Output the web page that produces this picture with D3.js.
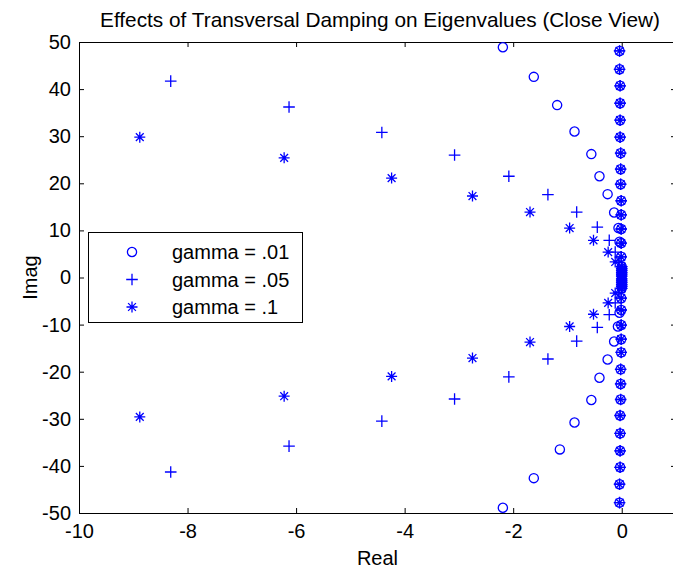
<!DOCTYPE html>
<html>
<head>
<meta charset="utf-8">
<script src="https://cdn.jsdelivr.net/npm/d3@7"></script>
<style>
  html, body { margin: 0; padding: 0; background: #fff; }
  svg { display: block; font-family: "Liberation Sans", Arial, Helvetica, sans-serif; }
</style>
</head>
<body>
<svg id="chart" width="673" height="571"></svg>
<script>
// Eigenvalues (real, imag) for three transversal damping coefficients.
// Each set holds the damped branch plus the lightly damped column near Re = 0.
const gamma01 = [
  [-2.19, 48.9], [-1.62, 42.6], [-1.19, 36.6], [-0.87, 31.0], [-0.56, 26.2],
  [-0.41, 21.5], [-0.26, 17.7], [-0.14, 13.8], [-0.06, 10.5], [-0.04, 7.6],
  [-2.19, -48.9], [-1.62, -42.6], [-1.14, -36.5], [-0.87, -30.8], [-0.56, -26.0],
  [-0.41, -21.3], [-0.26, -17.4], [-0.14, -13.6], [-0.07, -10.4], [-0.04, -7.5],
  [-0.04, 48.1], [-0.04, 44.2], [-0.03, 40.7], [-0.03, 37.0], [-0.03, 33.4],
  [-0.03, 29.8], [-0.02, 26.4], [-0.02, 23.0], [-0.02, 19.8], [-0.01, 16.3],
  [-0.01, 13.3], [-0.01, 10.3], [-0.01, 7.3], [-0.01, 4.4], [0.00, 2.3],
  [-0.04, -47.8], [-0.04, -43.9], [-0.03, -40.3], [-0.03, -36.8], [-0.03, -33.1],
  [-0.03, -29.3], [-0.02, -25.9], [-0.02, -22.6], [-0.02, -19.5], [-0.01, -15.9],
  [-0.01, -13.1], [-0.01, -10.1], [-0.01, -6.9], [-0.01, -4.4], [0.00, -2.3],
  [0.00, 1.9], [0.00, 1.5], [0.00, 1.1], [0.00, 0.7], [0.00, 0.3],
  [0.00, -1.9], [0.00, -1.5], [0.00, -1.1], [0.00, -0.7], [0.00, -0.3]
];

const gamma05 = [
  [-8.31, 41.7], [-6.13, 36.2], [-4.42, 30.8], [-3.08, 26.0], [-2.08, 21.5],
  [-1.36, 17.6], [-0.83, 13.9], [-0.45, 10.7], [-0.23, 7.9], [-0.12, 5.4], [-0.05, 3.2],
  [-8.31, -41.3], [-6.13, -35.8], [-4.42, -30.5], [-3.08, -25.8], [-2.08, -21.1],
  [-1.36, -17.3], [-0.83, -13.5], [-0.45, -10.6], [-0.23, -7.9], [-0.12, -5.4], [-0.05, -3.2],
  [-0.04, 48.1], [-0.04, 44.2], [-0.03, 40.7], [-0.03, 37.0], [-0.03, 33.4],
  [-0.03, 29.8], [-0.02, 26.4], [-0.02, 23.0], [-0.02, 19.8], [-0.01, 16.3],
  [-0.01, 13.3], [-0.01, 10.3], [-0.01, 7.3], [-0.01, 4.4], [0.00, 2.3],
  [-0.04, -47.8], [-0.04, -43.9], [-0.03, -40.3], [-0.03, -36.8], [-0.03, -33.1],
  [-0.03, -29.3], [-0.02, -25.9], [-0.02, -22.6], [-0.02, -19.5], [-0.01, -15.9],
  [-0.01, -13.1], [-0.01, -10.1], [-0.01, -6.9], [-0.01, -4.4], [0.00, -2.3],
  [0.00, 1.9], [0.00, 1.5], [0.00, 1.1], [0.00, 0.7], [0.00, 0.3],
  [0.00, -1.9], [0.00, -1.5], [0.00, -1.1], [0.00, -0.7], [0.00, -0.3]
];

const gamma1 = [
  [-8.88, 29.8], [-6.22, 25.4], [-4.24, 21.1], [-2.75, 17.3], [-1.69, 13.9],
  [-0.96, 10.5], [-0.52, 7.9], [-0.25, 5.4], [-0.12, 3.3],
  [-8.88, -29.6], [-6.22, -25.2], [-4.24, -21.0], [-2.75, -17.1], [-1.69, -13.7],
  [-0.96, -10.4], [-0.52, -7.8], [-0.25, -5.4], [-0.12, -3.3],
  [-0.04, 48.1], [-0.04, 44.2], [-0.03, 40.7], [-0.03, 37.0], [-0.03, 33.4],
  [-0.03, 29.8], [-0.02, 26.4], [-0.02, 23.0], [-0.02, 19.8], [-0.01, 16.3],
  [-0.01, 13.3], [-0.01, 10.3], [-0.01, 7.3], [-0.01, 4.4], [0.00, 2.3],
  [-0.04, -47.8], [-0.04, -43.9], [-0.03, -40.3], [-0.03, -36.8], [-0.03, -33.1],
  [-0.03, -29.3], [-0.02, -25.9], [-0.02, -22.6], [-0.02, -19.5], [-0.01, -15.9],
  [-0.01, -13.1], [-0.01, -10.1], [-0.01, -6.9], [-0.01, -4.4], [0.00, -2.3],
  [0.00, 1.9], [0.00, 1.5], [0.00, 1.1], [0.00, 0.7], [0.00, 0.3],
  [0.00, -1.9], [0.00, -1.5], [0.00, -1.1], [0.00, -0.7], [0.00, -0.3]
];

const seriesNames = ["gamma = .01", "gamma = .05", "gamma = .1"];
const seriesMarkers = ["circle", "plus", "star"];
const xTicks = [-10, -8, -6, -4, -2, 0];
const yTicks = [-50, -40, -30, -20, -10, 0, 10, 20, 30, 40, 50];

const titleText = "Effects of Transversal Damping on Eigenvalues (Close View)";
const xLabel = "Real";
const yLabel = "Imag";

// ---- layout ----
const W = 673, H = 571;
const plot = { left: 79, right: 676, top: 42, bottom: 513 };
const BLUE = "#0000ff";
const FONT = 20;

const svg = d3.select("#chart");

const x = d3.scaleLinear().domain([-10, 1]).range([plot.left, plot.right]);
const y = d3.scaleLinear().domain([-50, 50]).range([plot.bottom, plot.top]);

const fmt = d => String(d);

// Axes with inward ticks on all four sides
const gx = svg.append("g")
  .attr("transform", `translate(0,${plot.bottom})`)
  .call(d3.axisBottom(x).tickValues(xTicks).tickFormat(fmt).tickSizeInner(-5).tickSizeOuter(0).tickPadding(11));
const gxTop = svg.append("g")
  .attr("transform", `translate(0,${plot.top})`)
  .call(d3.axisTop(x).tickValues(xTicks).tickFormat("").tickSizeInner(-5).tickSizeOuter(0));
const gy = svg.append("g")
  .attr("transform", `translate(${plot.left},0)`)
  .call(d3.axisLeft(y).tickValues(yTicks).tickFormat(fmt).tickSizeInner(-5).tickSizeOuter(0).tickPadding(8));
const gyRight = svg.append("g")
  .attr("transform", `translate(${plot.right},0)`)
  .call(d3.axisRight(y).tickValues(yTicks).tickFormat("").tickSizeInner(-5).tickSizeOuter(0));

[gx, gxTop, gy, gyRight].forEach(g => {
  g.select(".domain").remove();
  g.selectAll(".tick line").attr("stroke", "#000").attr("stroke-width", 1);
  g.selectAll(".tick text")
    .attr("fill", "#000")
    .style("font-size", FONT + "px")
    .style("font-family", '"Liberation Sans", Arial, sans-serif');
});

// Axes box
svg.append("rect")
  .attr("x", plot.left + 0.5).attr("y", plot.top + 0.5)
  .attr("width", plot.right - plot.left).attr("height", plot.bottom - plot.top)
  .attr("fill", "none").attr("stroke", "#000").attr("stroke-width", 1);

// Marker shapes
const markerPath = {
  plus: "M-5.8,0H5.8M0,-5.8V5.8",
  star: "M-5.5,0H5.5M0,-5.5V5.5M-3.9,-3.9L3.9,3.9M-3.9,3.9L3.9,-3.9"
};

function drawMarker(sel, kind) {
  if (kind === "circle") {
    sel.append("circle").attr("r", 4.6)
      .attr("fill", "none").attr("stroke", BLUE).attr("stroke-width", 1.3);
  } else {
    sel.append("path").attr("d", markerPath[kind])
      .attr("fill", "none").attr("stroke", BLUE).attr("stroke-width", 1.3);
  }
}

svg.append("defs").append("clipPath").attr("id", "plotClip")
  .append("rect").attr("x", plot.left).attr("y", plot.top - 8)
  .attr("width", plot.right - plot.left).attr("height", plot.bottom - plot.top + 16);

const allSeries = [gamma01, gamma05, gamma1];
const marks = svg.append("g").attr("clip-path", "url(#plotClip)");
allSeries.forEach((data, i) => {
  marks.append("g").attr("class", "series-" + i)
    .selectAll("g")
    .data(data)
    .join("g")
    .attr("transform", d => `translate(${x(d[0])},${y(d[1])})`)
    .each(function () { drawMarker(d3.select(this), seriesMarkers[i]); });
});

// Title and axis labels
svg.append("text")
  .attr("x", 380).attr("y", 27)
  .attr("text-anchor", "middle").style("font-size", "20.8px")
  .text(titleText);

svg.append("text")
  .attr("x", (plot.left + plot.right) / 2).attr("y", 565)
  .attr("text-anchor", "middle").style("font-size", FONT + "px")
  .text(xLabel);

svg.append("text")
  .attr("transform", `translate(37,${(plot.top + plot.bottom) / 2}) rotate(-90)`)
  .attr("text-anchor", "middle").style("font-size", FONT + "px")
  .text(yLabel);

// Legend
const legend = svg.append("g").attr("transform", "translate(88,232)");
legend.append("rect")
  .attr("x", 0.5).attr("y", 0.5).attr("width", 214).attr("height", 90)
  .attr("fill", "#fff").attr("stroke", "#000").attr("stroke-width", 1);
seriesNames.forEach((name, i) => {
  const row = legend.append("g").attr("transform", `translate(0,${20 + i * 27.5})`);
  drawMarker(row.append("g").attr("transform", "translate(44,0)"), seriesMarkers[i]);
  row.append("text").attr("x", 84).attr("y", 7)
    .style("font-size", FONT + "px").text(name);
});
</script>
</body>
</html>
